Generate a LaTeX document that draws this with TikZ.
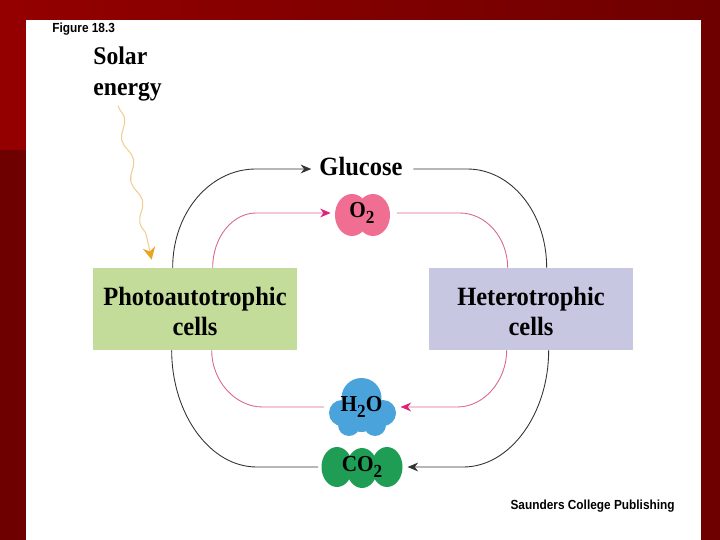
\documentclass[tikz,border=0pt]{standalone}
\usepackage{fontspec}
\setmainfont{Liberation Serif}
\newfontfamily\figserif[FakeStretch=0.93]{Liberation Serif}
\newfontfamily\figsans[FakeStretch=0.9]{Liberation Sans}
\usetikzlibrary{arrows.meta, backgrounds, calc, decorations.pathmorphing, positioning}

\definecolor{bgdark}{HTML}{6E0000}
\definecolor{bgbright}{HTML}{940000}
\definecolor{photofill}{HTML}{C4DC99}
\definecolor{heterofill}{HTML}{C7C7E1}
\definecolor{oxyfill}{HTML}{EF6E91}
\definecolor{waterfill}{HTML}{4AA3DB}
\definecolor{carbonfill}{HTML}{1F9D55}
\definecolor{pinkline}{HTML}{D9678F}
\definecolor{pinktip}{HTML}{E0207A}
\definecolor{sunline}{HTML}{F3CD92}
\definecolor{suntip}{HTML}{E8A41C}

\newcommand{\lowsub}[1]{\raisebox{-.5ex}{\fontsize{10.5}{10.5}\selectfont #1}}

\tikzset{
    cellbox/.style  = {rectangle, minimum width=4.08cm, minimum height=1.64cm,
                       inner sep=0pt, align=center,
                       font=\figserif\bfseries\fontsize{15}{17}\selectfont},
    molecule/.style = {inner sep=0pt, font=\figserif\bfseries\fontsize{13}{15}\selectfont},
    cycleline/.style = {draw=black!80, line width=.5pt},
    oxyline/.style  = {draw=pinkline, line width=.5pt},
    darrow/.style   = {-{Stealth[length=6pt, width=5pt]}},
    parrow/.style   = {-{Stealth[length=6pt, width=5pt, color=pinktip]}},
    sunray/.style   = {draw=sunline, line width=.6pt, decorate,
                       decoration={snake, amplitude=.75mm, segment length=8.5mm, post length=3mm},
                       -{Stealth[length=7pt, width=7pt, color=suntip]}}
}

\begin{document}
\begin{tikzpicture}[x=0.02cm, y=-0.02cm]
    \useasboundingbox (0,0) rectangle (720,540);
    \begin{scope}[on background layer]
        \fill[bgdark] (0,0) rectangle (720,540);
        \shade[left color=bgbright, right color=bgdark] (0,0) rectangle (720,20);
        \fill[bgbright] (0,0) rectangle (26,150);
        \fill[white] (26,20) rectangle (701,540);
    \end{scope}

    \node[anchor=north west, inner sep=0pt, font=\figsans\bfseries\fontsize{7.5}{9}\selectfont] (fig) at (52,23) {Figure 18.3};
    \node[anchor=north west, inner sep=0pt, align=left,
          font=\figserif\bfseries\fontsize{14.5}{18}\selectfont] (solar) at (93,46) {Solar\\energy};

    \node[cellbox, fill=photofill]  (photo)  at (195,309) {\rule{0pt}{13pt}Photoautotrophic\\cells};
    \node[cellbox, fill=heterofill] (hetero) at (531,309) {\rule{0pt}{13pt}Heterotrophic\\cells};

    \node[inner sep=3pt, font=\figserif\bfseries\fontsize{15}{17}\selectfont] (glucose) at (361,167) {Glucose};
    \node[molecule, minimum width=1.1cm,  minimum height=.8cm]  (o2)  at (362,213)   {O\lowsub{2}};
    \node[molecule, minimum width=1.34cm, minimum height=1.26cm] (h2o) at (361.5,407) {H\lowsub{2}O};
    \node[molecule, minimum width=1.6cm,  minimum height=.84cm] (co2) at (362,467)   {CO\lowsub{2}};

    \node[anchor=north east, inner sep=0pt, font=\figsans\bfseries\fontsize{7.5}{10}\selectfont] (publisher) at (675,500) {Saunders College Publishing};

    % molecules
    \begin{scope}[on background layer]
        \fill[oxyfill] (o2.center) ++(-10,2) ellipse [x radius=17, y radius=21];
        \fill[oxyfill] (o2.center) ++(11,2)  ellipse [x radius=17, y radius=21];
        \fill[waterfill] (h2o.center) ++(0,-9)    circle [radius=20];
        \fill[waterfill] (h2o.center) ++(-19.5,6) circle [radius=13];
        \fill[waterfill] (h2o.center) ++(21.5,6)  circle [radius=13];
        \fill[waterfill] (h2o.center) ++(-12.5,18) circle [radius=11];
        \fill[waterfill] (h2o.center) ++(13.5,18)  circle [radius=11];
        \fill[waterfill] (h2o.center) ++(0,11)    circle [radius=14];
        \fill[carbonfill] (co2.center) ++(-25,0) ellipse [x radius=15.5, y radius=20];
        \fill[carbonfill] (co2.center) ++(0,1)   ellipse [x radius=15.5, y radius=20];
        \fill[carbonfill] (co2.center) ++(25,0)  ellipse [x radius=15.5, y radius=20];
    \end{scope}

    % solar energy
    \draw[sunray] ($(solar.south west)+(25,4)$) -- ($(photo.north west)+(59,-8)$);

    % upper cycle
    \draw[cycleline, darrow, shorten >=1.5pt] ($(photo.north west)+(80,0)$)
        .. controls +(0,-55) and +(-46,0) .. ($(glucose.west)+(-58,2)$) -- ($(glucose.west)+(0,2)$);
    \draw[cycleline, shorten <=3pt] ($(glucose.east)+(0,2)$) -- ($(glucose.east)+(59,2)$)
        .. controls +(44,0) and +(0,-55) .. ($(hetero.north west)+(118,0)$);
    \draw[oxyline, parrow, shorten >=2pt] ($(photo.north west)+(120,0)$)
        .. controls +(0,-30) and +(-24,0) .. ($(o2.west)+(-78,0)$) -- (o2.west);
    \draw[oxyline, shorten <=4pt] (o2.east) -- ($(o2.east)+(70,0)$)
        .. controls +(26,0) and +(0,-30) .. ($(hetero.north west)+(79,0)$);

    % lower cycle
    \draw[oxyline, parrow, shorten >=3pt] ($(hetero.south west)+(78,0)$)
        .. controls +(0,30) and +(27,0) .. ($(h2o.east)+(62,0)$) -- (h2o.east);
    \draw[oxyline, shorten <=2pt] (h2o.west) -- ($(h2o.west)+(-65,0)$)
        .. controls +(-28,0) and +(0,30) .. ($(photo.south west)+(119,0)$);
    \draw[cycleline, darrow, shorten >=3pt] ($(hetero.south west)+(120,0)$)
        .. controls +(0,63) and +(47,0) .. ($(co2.east)+(61,0)$) -- (co2.east);
    \draw[cycleline, shorten <=2pt] (co2.west) -- ($(co2.west)+(-65,0)$)
        .. controls +(-47,0) and +(0,63) .. ($(photo.south west)+(79,0)$);
\end{tikzpicture}
\end{document}
